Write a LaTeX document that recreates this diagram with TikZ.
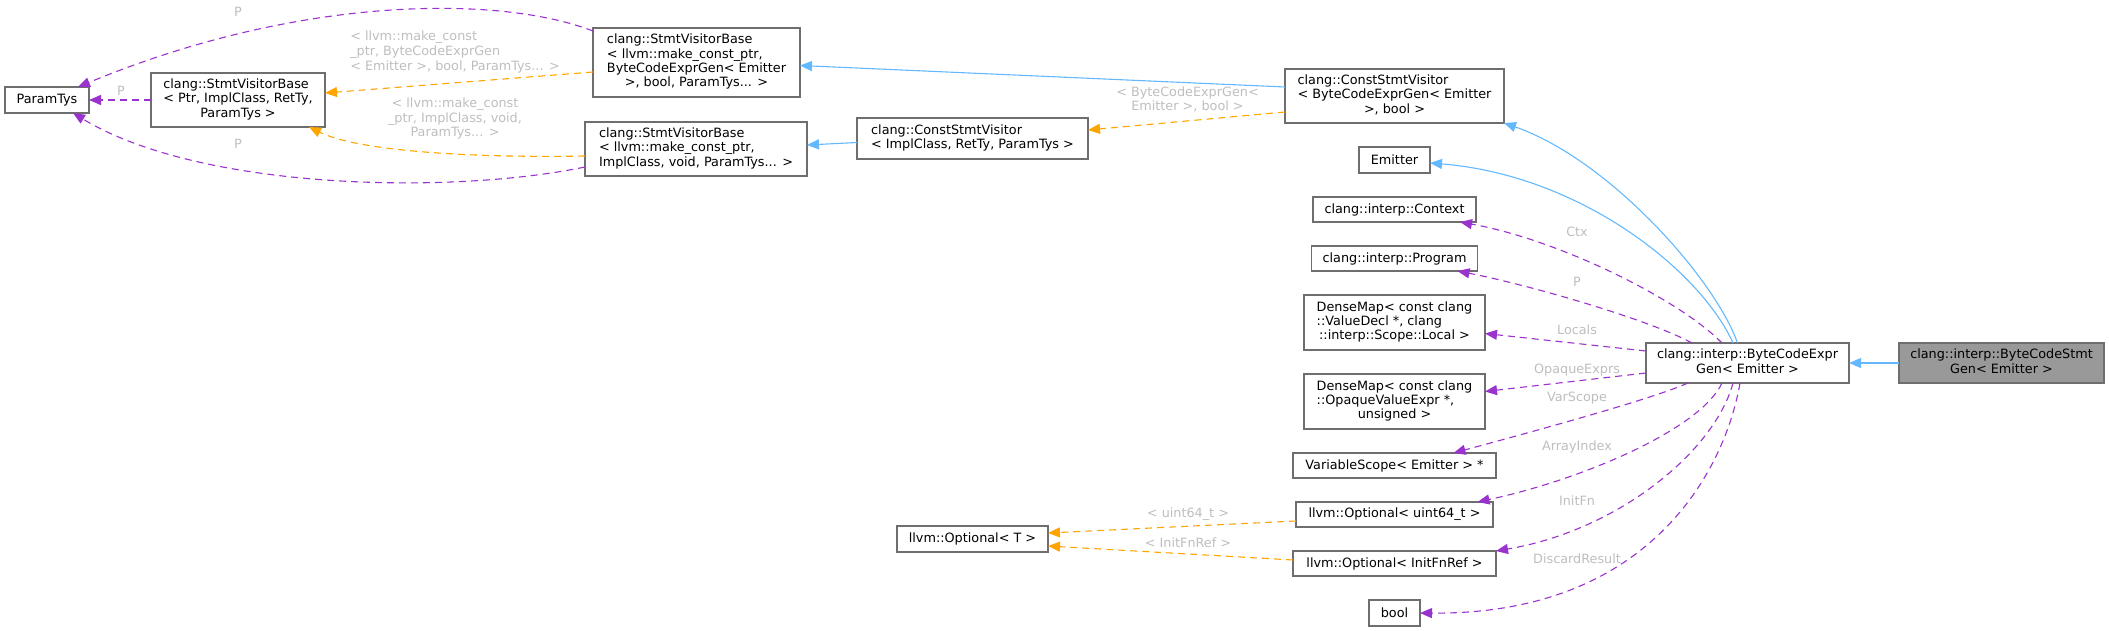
\documentclass[tikz,border=0pt]{standalone}
\usepackage{fontspec}
\setmainfont{DejaVu Sans}
\usetikzlibrary{arrows.meta, positioning}
\definecolor{inhblue}{HTML}{63B8FF}
\definecolor{usepurple}{HTML}{9A32CD}
\definecolor{tmplorange}{HTML}{FFA500}
\definecolor{boxgray}{HTML}{6E6E6E}
\definecolor{lblgray}{HTML}{BEBEBE}
\definecolor{curgray}{HTML}{999999}
\newcommand{\clsbox}[2]{\begin{tabular}{@{}l@{}}#1\\\multicolumn{1}{@{}c@{}}{#2}\end{tabular}}

\begin{document}
\begin{tikzpicture}[
        x=1pt, y=1pt,
        node distance=24pt,
        box/.style={draw=boxgray, line width=1.3pt, fill=white, inner sep=2pt, outer sep=0pt,
                    font=\fontsize{12.8}{14.3}\selectfont},
        lbl/.style={text=lblgray, inner sep=0pt, align=center,
                    font=\fontsize{12.8}{14.6}\selectfont},
        inh/.style={-{Triangle[length=12pt, width=10pt]}, inhblue, line width=1.1pt},
        mem/.style={-{Triangle[length=12pt, width=10pt]}, usepurple, line width=1.1pt,
                    dash pattern=on 7pt off 5pt},
        tmpl/.style={-{Triangle[length=12pt, width=10pt]}, tmplorange, line width=1.1pt,
                    dash pattern=on 7pt off 5pt}
      ]
        \useasboundingbox (0,0) rectangle (2109,-631);

        % base classes on the left
        \node[box, minimum width=84pt, minimum height=26pt] (paramtys) at (47,-100) {ParamTys};
        \node[box, minimum width=174pt, minimum height=54pt] (svb) at (238,-100)
              {\clsbox{clang::StmtVisitorBase\\< Ptr, ImplClass, RetTy,}{ParamTys >}};
        \node[box, minimum width=207pt, minimum height=69pt] (svbtop) at (696.5,-62.5)
              {\clsbox{clang::StmtVisitorBase\\< llvm::make\_const\_ptr,\\ByteCodeExprGen< Emitter}{>, bool, ParamTys... >}};
        \node[box, minimum width=222pt, minimum height=54pt] (svbmid) at (696,-149)
              {\clsbox{clang::StmtVisitorBase\\< llvm::make\_const\_ptr,}{ImplClass, void, ParamTys... >}};
        \node[box, minimum width=231pt, minimum height=41pt] (csv) at (972.5,-138.5)
              {\clsbox{clang::ConstStmtVisitor}{< ImplClass, RetTy, ParamTys >}};
        \node[box, minimum width=151pt, minimum height=26pt] (optt) at (972.5,-539) {llvm::Optional< T >};

        % column of bases and members
        \node[box, minimum width=219pt, minimum height=54pt] (csvtop) at (1394.5,-96)
              {\clsbox{clang::ConstStmtVisitor\\< ByteCodeExprGen< Emitter}{>, bool >}};
        \node[box, minimum width=71pt, minimum height=26pt, below=of csvtop] (emitter) {Emitter};
        \node[box, minimum width=163pt, minimum height=25pt, below=of emitter] (ctx) {clang::interp::Context};
        \node[box, minimum width=166pt, minimum height=25pt, below=of ctx] (prog) {clang::interp::Program};
        \node[box, minimum width=181pt, minimum height=55pt, below=of prog] (locals)
              {\clsbox{DenseMap< const clang\\::ValueDecl *, clang}{::interp::Scope::Local >}};
        \node[box, minimum width=181pt, minimum height=55pt, below=of locals] (opaque)
              {\clsbox{DenseMap< const clang\\::OpaqueValueExpr *,}{unsigned >}};
        \node[box, minimum width=203pt, minimum height=25pt, below=of opaque] (varscope) {VariableScope< Emitter > *};
        \node[box, minimum width=197pt, minimum height=25pt, below=of varscope] (optu) {llvm::Optional< uint64\_t >};
        \node[box, minimum width=203pt, minimum height=25pt, below=of optu] (opti) {llvm::Optional< InitFnRef >};
        \node[box, minimum width=51pt, minimum height=26pt, below=of opti] (bool) {bool};

        % the classes themselves
        \node[box, minimum width=203pt, minimum height=40pt] (bceg) at (1747.5,-363)
              {\clsbox{clang::interp::ByteCodeExpr}{Gen< Emitter >}};
        \node[box, fill=curgray, minimum width=205pt, minimum height=40pt] (bcsg) at (2001.5,-363)
              {\clsbox{clang::interp::ByteCodeStmt}{Gen< Emitter >}};

        % inheritance
        \draw[inh] (bcsg.west) -- (bceg.east);
        \draw[inh] ([xshift=-10pt]bceg.north) .. controls +(-22,63) and +(106,-37) .. (csvtop.south east);
        \draw[inh] ([xshift=-14.5pt]bceg.north) .. controls +(-33,73) and +(150,-12) .. ([yshift=-3pt]emitter.east);
        \draw[inh] ([yshift=9pt]csvtop.west) -- ([yshift=-3pt]svbtop.east);
        \draw[inh] ([yshift=-4pt]csv.west) -- ([yshift=4pt]svbmid.east);

        % template instances
        \draw[tmpl] ([yshift=-16pt]csvtop.west) -- ([yshift=8.5pt]csv.east);
        \draw[tmpl] ([yshift=-9.5pt]svbtop.west) -- ([yshift=7pt]svb.east);
        \draw[tmpl] ([yshift=-7pt]svbmid.west) .. controls +(-105,-2) and +(51,-25) .. ([xshift=-16pt]svb.south east);
        \draw[tmpl] ([yshift=-6.5pt]optu.west) -- ([yshift=6pt]optt.east);
        \draw[tmpl] ([yshift=3.5pt]opti.west) -- ([yshift=-7pt]optt.east);

        % members
        \draw[mem] (svb.west) -- (paramtys.east);
        \draw[mem] ([yshift=-3pt]svbtop.north west) .. controls +(-93,36) and +(222,92) .. ([xshift=-11pt]paramtys.north east);
        \draw[mem] ([yshift=-18pt]svbmid.west) .. controls +(-135,-28) and +(127,-77) .. ([xshift=-16pt]paramtys.south east);
        \draw[mem] ([xshift=-25.5pt]bceg.north) .. controls +(-42,43) and +(100,-18) .. ([xshift=-16pt]ctx.south east);
        \draw[mem] ([xshift=-55.5pt]bceg.north) .. controls +(-42,23) and +(72,-14) .. ([xshift=-20pt]prog.south east);
        \draw[mem] ([yshift=12pt]bceg.west) -- ([yshift=-11pt]locals.east);
        \draw[mem] ([yshift=-10pt]bceg.west) -- ([yshift=10pt]opaque.east);
        \draw[mem] ([xshift=-59.5pt]bceg.south) .. controls +(-38,-17) and +(66.5,18) .. ([xshift=59pt]varscope.north);
        \draw[mem] ([xshift=-25.5pt]bceg.south) .. controls +(-22,-47) and +(102.5,22) .. ([xshift=83pt]optu.north);
        \draw[mem] ([xshift=-14.5pt]bceg.south) .. controls +(-18,-67) and +(124,21) .. (opti.north east);
        \draw[mem] ([xshift=-7.5pt]bceg.south) .. controls +(-15,-87) and +(230,-2) .. (bool.east);

        % edge labels
        \node[lbl] (lcsv) at (1187.5,-99.5) {< ByteCodeExprGen<\\Emitter >, bool >};
        \node[lbl, align=left] (lsvbtop) at (455,-52)
              {< llvm::make\_const\\\_ptr, ByteCodeExprGen\\< Emitter >, bool, ParamTys... >};
        \node[lbl] (lsvbmid) at (455,-118.5) {< llvm::make\_const\\\_ptr, ImplClass, void,\\ParamTys... >};
        \node[lbl] (lp1) at (121,-91) {P};
        \node[lbl] (lp2) at (238,-12) {P};
        \node[lbl] (lp3) at (238,-144) {P};
        \node[lbl] (lctx) at (1577,-232) {Ctx};
        \node[lbl] (lprog) at (1577,-282) {P};
        \node[lbl] (llocals) at (1577,-330) {Locals};
        \node[lbl] (lopaque) at (1577,-370) {OpaqueExprs};
        \node[lbl] (lvarscope) at (1577,-398) {VarScope};
        \node[lbl] (larray) at (1577,-447) {ArrayIndex};
        \node[lbl] (linitfn) at (1577,-501) {InitFn};
        \node[lbl] (ldiscard) at (1577,-559) {DiscardResult};
        \node[lbl] (lu64) at (1188,-514) {< uint64\_t >};
        \node[lbl] (linitref) at (1188,-543) {< InitFnRef >};
      \end{tikzpicture}
\end{document}
